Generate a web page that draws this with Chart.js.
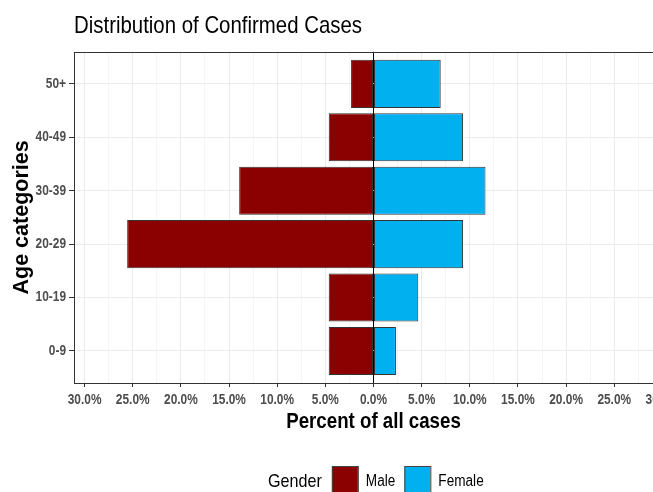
<!DOCTYPE html>
<html>
<head>
<meta charset="utf-8">
<script src="https://cdn.jsdelivr.net/npm/chart.js@4.4.1/dist/chart.umd.min.js"></script>
<style>
  html, body { margin: 0; padding: 0; background: #fff; overflow: hidden; }
  canvas { display: block; }
</style>
</head>
<body>
<canvas id="pyramid" width="700" height="492"></canvas>
<script>
// age groups, bottom to top
const ageGroups = ['0-9', '10-19', '20-29', '30-39', '40-49', '50+'];
// percent of all cases
const malePct = [4.65, 4.65, 25.58, 13.95, 4.65, 2.33];
const femalePct = [2.33, 4.65, 9.30, 11.63, 9.30, 6.98];
const xTicks = [-30, -27.5, -25, -22.5, -20, -17.5, -15, -12.5, -10, -7.5, -5, -2.5, 0,
                2.5, 5, 7.5, 10, 12.5, 15, 17.5, 20, 22.5, 25, 27.5, 30];

// no narrow font installed: "narrow" text gets squeezed by fillText's maxWidth,
// text set in Arial (mapped to Liberation Sans) is left as is
const narrow = "'Liberation Sans', sans-serif";
const wide = "Arial, sans-serif";
const squeeze = 0.85;

const ctx = document.getElementById('pyramid').getContext('2d');
const origFillText = ctx.fillText.bind(ctx);
ctx.fillText = function(text, x, y, maxWidth) {
    if (this.font.indexOf('Arial') !== -1) {
        return maxWidth === undefined ? origFillText(text, x, y) : origFillText(text, x, y, maxWidth);
    }
    let w = this.measureText(text).width * squeeze;
    if (maxWidth !== undefined) w = Math.min(w, maxWidth);
    return origFillText(text, x, y, Math.max(w, 0.1));
};

// panel border, drawn over everything like ggplot
const panelBorder = {
    id: 'panelBorder',
    afterDatasetsDraw(chart) {
        const a = chart.chartArea;
        const c = chart.ctx;
        c.save();
        c.strokeStyle = '#333333';
        c.lineWidth = 1;
        c.strokeRect(Math.round(a.left) + 0.5, Math.round(a.top) + 0.5,
                     Math.round(a.right - a.left), Math.round(a.bottom - a.top));
        c.restore();
    }
};

// ggplot style legend: "Gender" title inline with the keys
const genderLegend = {
    id: 'genderLegend',
    afterDraw(chart) {
        const c = chart.ctx;
        const cy = 482;
        let x = 268;
        c.save();
        c.textBaseline = 'middle';
        c.fillStyle = '#000';
        c.font = '19px ' + narrow;
        c.fillText('Gender', x, cy);
        x += c.measureText('Gender').width * squeeze + 10;
        chart.data.datasets.forEach(ds => {
            c.fillStyle = ds.backgroundColor;
            c.fillRect(x, 466, 26, 30);
            c.strokeStyle = '#444';
            c.lineWidth = 1;
            c.strokeRect(x + 0.5, 466.5, 26, 30);
            x += 26 + 8;
            c.fillStyle = '#000';
            c.font = '16px ' + narrow;
            c.fillText(ds.label, x, cy);
            x += c.measureText(ds.label).width * squeeze + 9;
        });
        c.restore();
    }
};

const pyramid = new Chart(ctx, {
    type: 'bar',
    data: {
        datasets: [{
            label: 'Male',
            data: malePct.map((v, i) => ({ x: -v, y: i + 1 })),
            backgroundColor: '#8b0000',
            borderColor: '#333333',
            borderWidth: 1,
            borderSkipped: false
        }, {
            label: 'Female',
            data: femalePct.map((v, i) => ({ x: v, y: i + 1 })),
            backgroundColor: '#00b0ef',
            borderColor: '#333333',
            borderWidth: 1,
            borderSkipped: false
        }]
    },
    options: {
        indexAxis: 'y',
        responsive: false,
        animation: false,
        devicePixelRatio: 1,
        categoryPercentage: 0.9,
        barPercentage: 1,
        layout: { padding: { left: 0, right: 27, top: 0, bottom: 50 } },
        scales: {
            x: {
                type: 'linear',
                stacked: true,
                min: -31.1,
                max: 31.1,
                afterBuildTicks: s => { s.ticks = xTicks.map(v => ({ value: v })); },
                afterFit: s => { s.height = 59; },
                border: { display: false },
                grid: {
                    color: c => c.tick.value === 0 ? '#000000' : (c.tick.value % 5 === 0 ? '#ebebeb' : '#f5f5f5'),
                    tickColor: c => c.tick.value % 5 === 0 ? '#333333' : 'rgba(0,0,0,0)',
                    tickLength: 4,
                    lineWidth: 1
                },
                ticks: {
                    autoSkip: false,
                    maxRotation: 0,
                    padding: 5,
                    color: '#4d4d4d',
                    font: { family: narrow, size: 14, weight: 'bold' },
                    callback: v => v % 5 === 0 ? Math.abs(v).toFixed(1) + '%' : ''
                },
                title: {
                    display: true,
                    text: 'Percent of all cases',
                    color: '#000',
                    font: { family: narrow, size: 22, weight: 'bold' },
                    padding: { top: 0, bottom: 7 }
                }
            },
            y: {
                type: 'linear',
                stacked: true,
                offset: false,
                min: 0.4,
                max: 6.6,
                afterBuildTicks: s => { s.ticks = ageGroups.map((_, i) => ({ value: i + 1 })); },
                afterFit: s => { s.width = 74; },
                border: { display: false },
                grid: {
                    offset: false,
                    color: '#ebebeb',
                    tickColor: '#333333',
                    tickLength: 5,
                    lineWidth: 1
                },
                ticks: {
                    autoSkip: false,
                    padding: 3,
                    color: '#4d4d4d',
                    font: { family: narrow, size: 14, weight: 'bold' },
                    callback: v => ageGroups[v - 1]
                },
                title: {
                    display: true,
                    text: 'Age categories',
                    color: '#000',
                    font: { family: wide, size: 21.5, weight: 'bold' },
                    padding: { top: 9, bottom: 0 }
                }
            }
        },
        plugins: {
            legend: { display: false },
            tooltip: { enabled: false },
            title: {
                display: true,
                text: 'Distribution of Confirmed Cases',
                align: 'start',
                fullSize: false,
                color: '#000',
                font: { family: narrow, size: 24, weight: 'normal' },
                padding: { top: 12, bottom: 11 }
            }
        }
    },
    plugins: [panelBorder, genderLegend]
});
</script>
</body>
</html>
